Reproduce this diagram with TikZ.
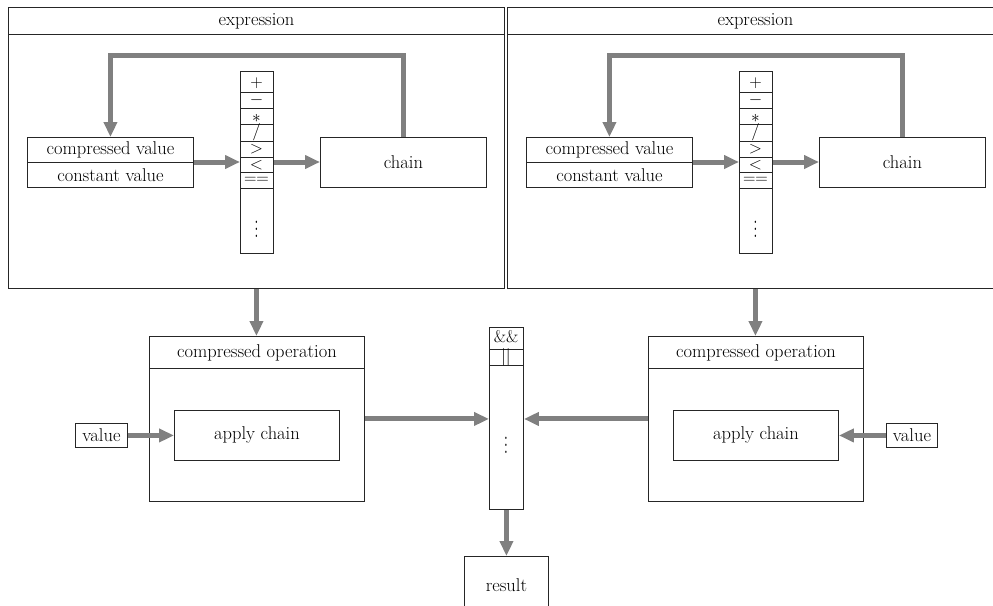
\documentclass[tikz,border=0pt]{standalone}
\usetikzlibrary{arrows.meta,calc}

\tikzset{
  box/.style={draw=black!85, line width=0.9pt, fill=white, inner sep=0pt,
    anchor=north west, font=\fontsize{18.5}{21}\selectfont},
  flow/.style={draw=black!50, line width=5pt,
    -{Triangle[length=15pt,width=13pt]}},
  sym/.style={inner sep=0pt, font=\fontsize{17}{20}\selectfont},
  rule/.style={draw=black!85, line width=0.9pt},
}

% box by its corners: name, x1, y1, x2, y2, text
\newcommand{\cbox}[6]{%
  \node[box, minimum width={#4-#2}, minimum height={#5-#3}] (#1) at (#2,#3) {#6};}

% tall vertical ellipsis
\newcommand{\tallvdots}{\scalebox{1}[1.7]{$\vdots$}}

% one "expression" panel, shifted by #2
\newcommand{\exprpanel}[2]{%
  \begin{scope}[xshift=#2]
    \cbox{expr#1}{8}{7}{504}{288}{}
    \cbox{exprt#1}{8}{7}{504}{34}{expression}
    \cbox{cv#1}{27}{137}{193}{162}{compressed value}
    \cbox{kv#1}{27}{162}{193}{187}{constant value}
    \coordinate (cvmid#1) at (110,162);
    \cbox{chain#1}{320}{137}{486}{187}{chain}
    \cbox{ops#1}{240}{71}{273}{253}{}
    \foreach \yy in {92,108,124,141,157,172,188}
      \draw[rule] (240,\yy) -- (273,\yy);
    \node[sym] (op1#1) at (256.5,83) {$+$};
    \node[sym] (op2#1) at (256.5,100) {$-$};
    \node[sym] (op3#1) at (256.5,118) {$*$};
    \node[sym] (op4#1) at (256.5,132) {$/$};
    \node[sym] (op5#1) at (256.5,149) {$>$};
    \node[sym] (op6#1) at (256.5,165) {$<$};
    \node[sym] (op7#1) at (256.5,180) {${=}{=}$};
    \node[sym] (op8#1) at (256.5,224) {\tallvdots};
    % connectors
    \draw[flow] (chain#1.north) -- ++(0,-82) -| (cv#1.north);
    \draw[flow] (cvmid#1 -| cv#1.east) -- (cvmid#1 -| ops#1.west);
    \draw[flow] (cvmid#1 -| ops#1.east) -- (cvmid#1 -| chain#1.west);
  \end{scope}}

\begin{document}
\begin{tikzpicture}[x=1pt, y=-1pt]
  \useasboundingbox (0,0) rectangle (993,605);
  \clip (0,0) rectangle (993,605);

  \exprpanel{a}{0}
  \exprpanel{b}{499}

  % compressed operations
  \cbox{coopa}{149}{336}{364}{501}{}
  \cbox{coopta}{149}{336}{364}{368}{compressed operation}
  \cbox{applya}{174}{410}{339}{460}{apply chain}
  \cbox{vala}{75}{423}{127}{447}{value}

  \cbox{coopb}{648}{336}{863}{501}{}
  \cbox{cooptb}{648}{336}{863}{368}{compressed operation}
  \cbox{applyb}{673}{410}{838}{460}{apply chain}
  \cbox{valb}{886}{423}{937}{447}{value}

  % logical operators column
  \cbox{logic}{489}{327}{523}{509}{}
  \draw[rule] (489,349) -- (523,349);
  \draw[rule] (489,365) -- (523,365);
  \node[sym] (land) at (506,337) {\&\&};
  \node[sym] (lor) at (506,357) {$||$};
  \node[sym] (ldots) at (506,440) {\tallvdots};

  \cbox{result}{464}{556}{548}{614}{result}

  % connectors
  \draw[flow] (expra.south) -- (expra.south |- coopa.north);
  \draw[flow] (exprb.south) -- (exprb.south |- coopb.north);
  \draw[flow] (vala.east) -- (applya.west);
  \draw[flow] (valb.west) -- (applyb.east);
  \draw[flow] (coopa.east) -- (coopa.east -| logic.west);
  \draw[flow] (coopb.west) -- (coopb.west -| logic.east);
  \draw[flow] (logic.south) -- (logic.south |- result.north);
\end{tikzpicture}
\end{document}
